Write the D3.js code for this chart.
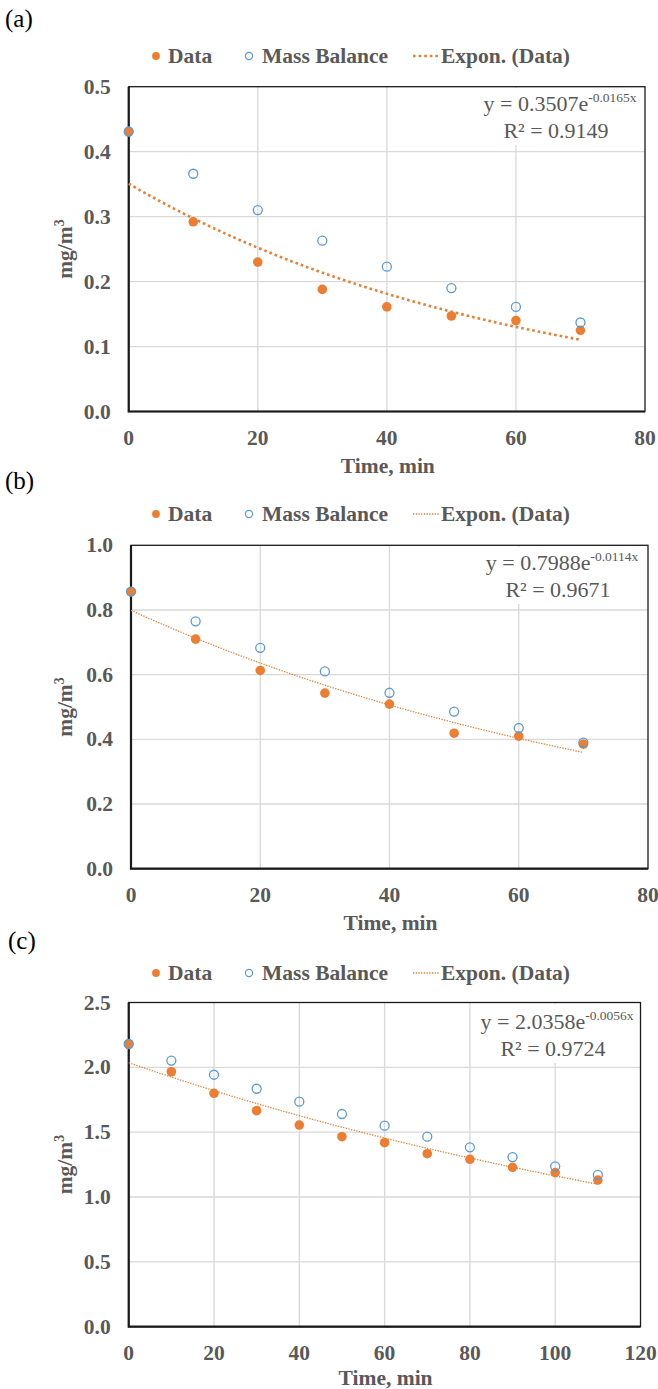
<!DOCTYPE html>
<html>
<head>
<meta charset="utf-8">
<script src="https://cdn.jsdelivr.net/npm/d3@7"></script>
<style>
  body { margin: 0; background: #fff; }
  svg { display: block; }
</style>
</head>
<body>
<svg id="chart" width="658" height="1389"></svg>
<script>
// ---- values ----
var timeA = [0, 10, 20, 30, 40, 50, 60, 70];
var dataA = [0.431, 0.292, 0.230, 0.188, 0.161, 0.147, 0.140, 0.125];
var massA = [0.431, 0.366, 0.310, 0.263, 0.223, 0.190, 0.161, 0.137];
var fitA = [0.3507, -0.0165];
var r2A = "0.9149";
var xTicksA = [0, 20, 40, 60, 80];
var yTicksA = [0, 0.1, 0.2, 0.3, 0.4, 0.5];

var timeB = [0, 10, 20, 30, 40, 50, 60, 70];
var dataB = [0.857, 0.710, 0.613, 0.543, 0.509, 0.419, 0.410, 0.385];
var massB = [0.857, 0.765, 0.683, 0.610, 0.544, 0.486, 0.435, 0.390];
var fitB = [0.7988, -0.0114];
var r2B = "0.9671";
var xTicksB = [0, 20, 40, 60, 80];
var yTicksB = [0, 0.2, 0.4, 0.6, 0.8, 1.0];

var timeC = [0, 10, 20, 30, 40, 50, 60, 70, 80, 90, 100, 110];
var dataC = [2.180, 1.966, 1.800, 1.666, 1.555, 1.465, 1.419, 1.334, 1.291, 1.229, 1.188, 1.131];
var massC = [2.180, 2.052, 1.943, 1.835, 1.735, 1.640, 1.550, 1.465, 1.383, 1.308, 1.237, 1.170];
var fitC = [2.0358, -0.0056];
var r2C = "0.9724";
var xTicksC = [0, 20, 40, 60, 80, 100, 120];
var yTicksC = [0, 0.5, 1.0, 1.5, 2.0, 2.5];

var legendNames = ["Data", "Mass Balance", "Expon. (Data)"];

// ---- layout ----
var serif = "'Liberation Serif', 'Times New Roman', serif";
var orange = "#ed7d31", blue = "#5b9bd5", grey = "#595959", grid = "#d9d9d9";

var panels = [
  {label: "(a)", labelX: 5, labelY: 27, time: timeA, data: dataA, mass: massA, fit: fitA, r2: r2A,
   xTicks: xTicksA, yTicks: yTicksA, yFmt: ".1f", titleDy: 61,
   left: 128.7, right: 645, top: 86.7, bottom: 411.5, legendY: 56, eqX: 560, eqY: 104, heavy: true},
  {label: "(b)", labelX: 5, labelY: 489, time: timeB, data: dataB, mass: massB, fit: fitB, r2: r2B,
   xTicks: xTicksB, yTicks: yTicksB, yFmt: ".1f", titleDy: 61,
   left: 131, right: 648, top: 545.3, bottom: 868.7, legendY: 514, eqX: 562, eqY: 563, heavy: false},
  {label: "(c)", labelX: 8, labelY: 949, time: timeC, data: dataC, mass: massC, fit: fitC, r2: r2C,
   xTicks: xTicksC, yTicks: yTicksC, yFmt: ".1f", titleDy: 58,
   left: 128.7, right: 640.5, top: 1002.5, bottom: 1326.7, legendY: 973, eqX: 557, eqY: 1022, heavy: false}
];

var svg = d3.select("#chart");

panels.forEach(function(p) {
  var g = svg.append("g");
  var x = d3.scaleLinear().domain(d3.extent(p.xTicks)).range([p.left, p.right]);
  var y = d3.scaleLinear().domain(d3.extent(p.yTicks)).range([p.bottom, p.top]);

  // panel label
  g.append("text").attr("x", p.labelX).attr("y", p.labelY)
    .attr("font-family", serif).attr("font-size", 25).attr("fill", "#000").text(p.label);

  // gridlines
  g.selectAll(".vg").data(p.xTicks.slice(1, -1)).enter().append("line")
    .attr("x1", d => x(d)).attr("x2", d => x(d)).attr("y1", p.top).attr("y2", p.bottom)
    .attr("stroke", grid).attr("stroke-width", 1.3);
  g.selectAll(".hg").data(p.yTicks.slice(1, -1)).enter().append("line")
    .attr("x1", p.left).attr("x2", p.right).attr("y1", d => y(d)).attr("y2", d => y(d))
    .attr("stroke", grid).attr("stroke-width", 1.3);

  // equation box (white background hides gridlines)
  g.append("rect").attr("x", p.eqX - 84).attr("y", p.top + 1.5)
    .attr("width", 168).attr("height", p.eqY + 41 - p.top - 1.5).attr("fill", "#fff");

  // frame
  g.append("rect").attr("x", p.left).attr("y", p.top)
    .attr("width", p.right - p.left).attr("height", p.bottom - p.top)
    .attr("fill", "none").attr("stroke", "#1a1a1a").attr("stroke-width", 1.3);
  g.append("path")
    .attr("d", "M" + p.left + "," + p.top + "V" + p.bottom + "H" + p.right)
    .attr("fill", "none").attr("stroke", "#1a1a1a").attr("stroke-width", 2.2);

  // tick labels
  var fmt = d3.format(p.yFmt);
  g.selectAll(".yt").data(p.yTicks).enter().append("text")
    .attr("x", p.left - 18).attr("y", d => y(d) + 7)
    .attr("text-anchor", "end").attr("font-family", serif).attr("font-weight", "bold")
    .attr("font-size", 21.5).attr("fill", grey).text(d => fmt(d));
  g.selectAll(".xt").data(p.xTicks).enter().append("text")
    .attr("x", d => x(d)).attr("y", p.bottom + 33)
    .attr("text-anchor", "middle").attr("font-family", serif).attr("font-weight", "bold")
    .attr("font-size", 21.5).attr("fill", grey).text(d => d);

  // axis titles
  g.append("text").attr("x", (p.left + p.right) / 2 + 1).attr("y", p.bottom + p.titleDy)
    .attr("text-anchor", "middle").attr("font-family", serif).attr("font-weight", "bold")
    .attr("font-size", 21.5).attr("fill", grey).text("Time, min");
  var yt = g.append("text")
    .attr("transform", "translate(72," + ((p.top + p.bottom) / 2) + ") rotate(-90)")
    .attr("text-anchor", "middle").attr("font-family", serif).attr("font-weight", "bold")
    .attr("font-size", 21.5).attr("fill", grey);
  yt.append("tspan").text("mg/m");
  yt.append("tspan").attr("font-size", 14).attr("dy", -8).text("3");

  // trendline from the fitted equation
  var tMax = d3.max(p.time);
  var curve = d3.range(0, tMax + 0.001, 1).map(t => [t, p.fit[0] * Math.exp(p.fit[1] * t)]);
  var dash = p.heavy ? "2.6,3" : "1.3,1.4";
  var lw = p.heavy ? 2.6 : 1.3;
  g.append("path").datum(curve)
    .attr("d", d3.line().x(d => x(d[0])).y(d => y(d[1])))
    .attr("fill", "none").attr("stroke", orange).attr("stroke-width", lw)
    .attr("stroke-dasharray", dash);

  // data markers
  g.selectAll(".dp").data(p.time).enter().append("circle")
    .attr("cx", d => x(d)).attr("cy", (d, i) => y(p.data[i])).attr("r", 4.8)
    .attr("fill", orange);
  g.selectAll(".mb").data(p.time).enter().append("circle")
    .attr("cx", d => x(d)).attr("cy", (d, i) => y(p.mass[i])).attr("r", 4.5)
    .attr("fill", "none").attr("stroke", blue).attr("stroke-width", 1.3);

  // equation text
  var e1 = g.append("text").attr("x", p.eqX).attr("y", p.eqY + 7)
    .attr("text-anchor", "middle").attr("font-family", serif)
    .attr("font-size", 22).attr("fill", grey);
  e1.append("tspan").text("y = " + p.fit[0].toFixed(4) + "e");
  e1.append("tspan").attr("font-size", 13.5).attr("dy", -9).text(p.fit[1].toFixed(4) + "x");
  g.append("text").attr("x", p.eqX - 4).attr("y", p.eqY + 34)
    .attr("text-anchor", "middle").attr("font-family", serif)
    .attr("font-size", 22).attr("fill", grey).text("R\u00b2 = " + p.r2);

  // legend
  var ly = p.legendY;
  var lg = g.append("g").attr("font-family", serif).attr("font-weight", "bold")
    .attr("font-size", 21.5).attr("fill", grey);
  lg.append("circle").attr("cx", 156).attr("cy", ly).attr("r", 3.9).attr("fill", orange);
  lg.append("text").attr("x", 168).attr("y", ly + 7).text(legendNames[0]);
  lg.append("circle").attr("cx", 249).attr("cy", ly).attr("r", 3.6)
    .attr("fill", "none").attr("stroke", blue).attr("stroke-width", 1.2);
  lg.append("text").attr("x", 262).attr("y", ly + 7).text(legendNames[1]);
  lg.append("line").attr("x1", 413).attr("x2", 440).attr("y1", ly).attr("y2", ly)
    .attr("stroke", orange).attr("stroke-width", lw).attr("stroke-dasharray", dash);
  lg.append("text").attr("x", 441).attr("y", ly + 7).text(legendNames[2]);
});
</script>
</body>
</html>
